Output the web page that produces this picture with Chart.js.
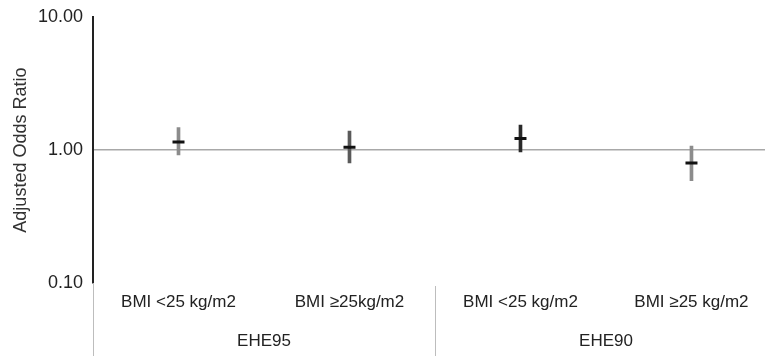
<!DOCTYPE html>
<html>
<head>
<meta charset="utf-8">
<script src="https://cdn.jsdelivr.net/npm/chart.js@4/dist/chart.umd.min.js"></script>
<style>
  html, body { margin: 0; padding: 0; background: #fff; overflow: hidden; }
  #wrap { width: 765px; height: 356px; }
</style>
</head>
<body>
<div id="wrap"><canvas id="orChart"></canvas></div>
<script>
// Data
const categories = ['BMI <25 kg/m2', 'BMI \u226525kg/m2', 'BMI <25 kg/m2', 'BMI \u226525 kg/m2'];
const groups = ['EHE95', 'EHE90'];
const oddsRatio = [1.15, 1.05, 1.22, 0.80];
const ciLow = [0.92, 0.80, 0.97, 0.59];
const ciHigh = [1.48, 1.39, 1.54, 1.07];
const yTicks = [0.1, 1, 10];

const whiskerColors = ['#8c8c8c', '#5a5a5a', '#2a2a2a', '#8c8c8c'];
const FONT = '"Liberation Sans", Arial, sans-serif';

// Draws the two-row category labels and the group separators under the plot
const groupLabels = {
    id: 'groupLabels',
    afterDraw(chart) {
        const { ctx, chartArea, scales: { x } } = chart;
        const bottom = chart.height;
        ctx.save();
        ctx.strokeStyle = '#bdbdbd';
        ctx.lineWidth = 1;
        [0.5, 2.5].forEach((v, i) => {
            const px = Math.round(x.getPixelForValue(v)) + 0.5;
            ctx.beginPath();
            ctx.moveTo(px, i === 0 ? chartArea.bottom : chartArea.bottom + 3);
            ctx.lineTo(px, bottom);
            ctx.stroke();
        });
        ctx.fillStyle = '#222';
        ctx.font = '17px ' + FONT;
        ctx.textAlign = 'center';
        ctx.textBaseline = 'middle';
        categories.forEach((c, i) => {
            ctx.fillText(c, x.getPixelForValue(i + 1), chartArea.bottom + 19);
        });
        groups.forEach((g, i) => {
            ctx.fillText(g, x.getPixelForValue(i * 2 + 1.5), chartArea.bottom + 58);
        });
        ctx.restore();
    }
};

const ctx = document.getElementById('orChart').getContext('2d');
new Chart(ctx, {
    data: {
        datasets: [
            {
                type: 'bar',
                data: categories.map((c, i) => ({ x: i + 1, y: [ciLow[i], ciHigh[i]] })),
                backgroundColor: whiskerColors,
                barThickness: 3,
                order: 2
            },
            {
                type: 'scatter',
                data: categories.map((c, i) => ({ x: i + 1, y: oddsRatio[i] })),
                pointStyle: 'line',
                pointRadius: 6,
                pointHoverRadius: 6,
                borderWidth: 3,
                borderColor: '#111',
                backgroundColor: '#111',
                order: 1
            }
        ]
    },
    options: {
        responsive: true,
        maintainAspectRatio: false,
        animation: false,
        layout: { autoPadding: false, padding: { top: 14, bottom: 73, left: 0, right: 0 } },
        plugins: { legend: { display: false }, tooltip: { enabled: false } },
        scales: {
            x: {
                type: 'linear',
                min: 0.5,
                max: 4.43,
                offset: false,
                display: false
            },
            y: {
                type: 'logarithmic',
                min: 0.1,
                max: 10,
                afterBuildTicks: scale => { scale.ticks = yTicks.map(v => ({ value: v })); },
                afterFit: scale => { scale.width = 93; },
                ticks: {
                    color: '#222',
                    font: { family: FONT, size: 18, lineHeight: 0.8 },
                    padding: 10,
                    callback: v => Number(v).toFixed(2)
                },
                grid: {
                    drawTicks: false,
                    color: c => (c.tick && c.tick.value === 1 ? '#a8a8a8' : 'transparent'),
                    lineWidth: 1.5
                },
                border: { display: true, color: '#222', width: 2 },
                title: {
                    display: true,
                    text: 'Adjusted Odds Ratio',
                    color: '#333',
                    font: { family: FONT, size: 18 },
                    padding: { top: 10, bottom: 4 }
                }
            }
        }
    },
    plugins: [groupLabels]
});
</script>
</body>
</html>
